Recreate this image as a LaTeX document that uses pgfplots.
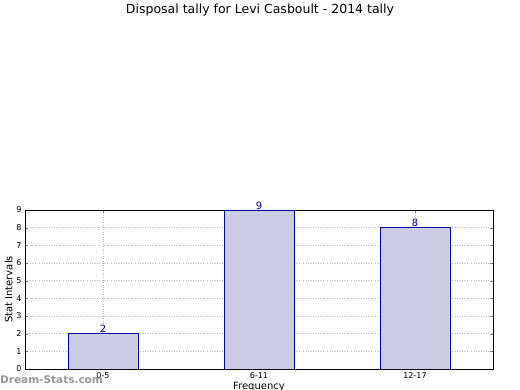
\documentclass[border=0pt]{standalone}
\usepackage{fontspec}
\setmainfont{DejaVu Sans}
\usepackage{pgfplots}
\pgfplotsset{compat=1.18}
\definecolor{barfill}{RGB}{204,204,228}
\definecolor{baredge}{RGB}{0,0,160}
\definecolor{wm}{RGB}{150,150,150}
\begin{document}
\begin{tikzpicture}
\useasboundingbox (0pt,0pt) rectangle (520pt,390pt);
\begin{axis}[
  at={(25pt,21pt)}, anchor=south west,
  scale only axis, width=468pt, height=159pt,
  xmin=-0.5, xmax=2.5, ymin=0, ymax=9,
  xtick={0,1,2}, xticklabels={0-5,6-11,12-17},
  ytick={0,1,...,9},
  tick label style={font=\fontsize{8}{9}\selectfont},
  /pgf/number format/assume math mode=true,
  xmajorgrids, ymajorgrids,
  grid style={gray!55, dotted, line width=0.6pt},
  tick align=inside, major tick length=3pt,
  axis line style={black, line width=0.6pt},
  ylabel={Stat Intervals}, xlabel={Frequency},
  label style={font=\fontsize{10}{12}\selectfont},
  xlabel style={yshift=3pt},
  ylabel style={yshift=-3pt},
]
\addplot[ybar, bar width=70pt, fill=barfill, draw=baredge, line width=0.6pt,
  nodes near coords, nodes near coords style={text=baredge, font=\fontsize{10}{12}\selectfont, inner sep=0.5pt}]
  coordinates {(0,2) (1,9) (2,8)};
\end{axis}
\node[font=\fontsize{12.5}{15}\selectfont] at (260pt,380pt) {Disposal tally for Levi Casboult - 2014 tally};
\node[font=\bfseries\fontsize{10.5}{12}\selectfont, text=wm, anchor=west, inner sep=0pt] at (0pt,10pt) {Dream-Stats.com};
\end{tikzpicture}
\end{document}
